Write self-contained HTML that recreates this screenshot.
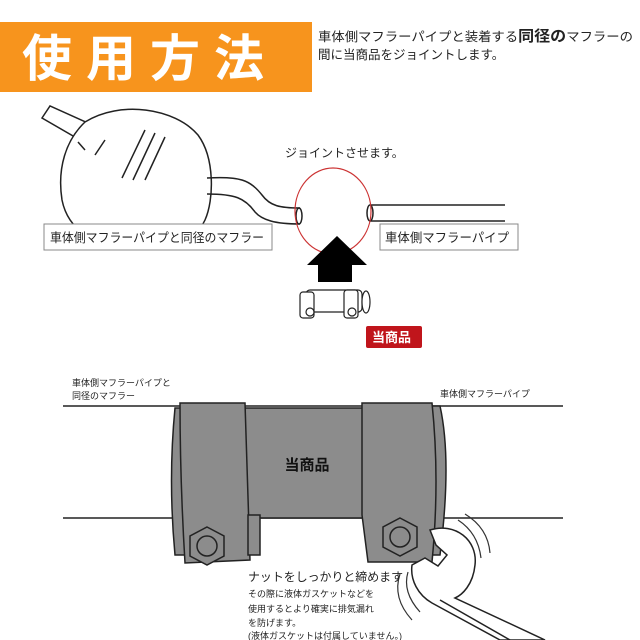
<!DOCTYPE html>
<html><head><meta charset="utf-8"><style>
body{margin:0;background:#fff;}
svg{display:block}
text{font-family:"Liberation Sans","Noto Sans CJK JP",sans-serif;}
</style></head><body>
<svg width="640" height="640" viewBox="0 0 640 640" xmlns="http://www.w3.org/2000/svg">
<rect x="0" y="22" width="312" height="70" fill="#f7941d"/>
<text x="22" y="76" font-size="50" font-weight="bold" fill="#fff" letter-spacing="14">使用方法</text>
<text x="318" y="41" font-size="12.5" fill="#222" textLength="315" lengthAdjust="spacingAndGlyphs">車体側マフラーパイプと装着する<tspan font-weight="bold" font-size="15">同径の</tspan>マフラーの</text>
<text x="318" y="59" font-size="12.5" fill="#222">間に当商品をジョイントします。</text>

<!-- muffler -->
<g fill="none" stroke="#222" stroke-width="1.5">
<path d="M42,118 L50,106 L90,124 L80,140 Z" fill="#fff"/>
<path d="M85,122 C120,100 175,108 198,135 C215,158 214,200 205,220 C196,240 165,248 135,248 C95,248 68,230 62,200 C57,168 66,140 85,122 Z" fill="#fff"/>
<path d="M105,140 L95,155 M145,130 L122,178 M155,133 L133,180 M165,137 L145,180 M85,150 L78,142"/>
<path d="M207,178 C240,176 250,180 262,195 C270,206 280,208 300,208"/>
<path d="M207,194 C235,194 245,198 255,212 C262,220 275,224 300,224"/>
<ellipse cx="299" cy="216" rx="3" ry="8"/>
<ellipse cx="370" cy="213" rx="3" ry="8"/>
<path d="M370,205 L505,205 M370,221 L505,221"/>
</g>
<ellipse cx="333" cy="211" rx="38" ry="43" fill="none" stroke="#c33" stroke-width="1.2"/>
<text x="285" y="157" font-size="12" fill="#222">ジョイントさせます。</text>
<rect x="44" y="224" width="228" height="26" fill="#fff" stroke="#888"/>
<text x="50" y="242" font-size="12.5" fill="#222" textLength="214" lengthAdjust="spacingAndGlyphs">車体側マフラーパイプと同径のマフラー</text>
<rect x="380" y="224" width="138" height="26" fill="#fff" stroke="#888"/>
<text x="385" y="242" font-size="12.5" fill="#222" textLength="124" lengthAdjust="spacingAndGlyphs">車体側マフラーパイプ</text>
<polygon points="337,236 367,265 352,265 352,282 318,282 318,265 307,265" fill="#000"/>
<!-- small clamp -->
<g fill="#fff" stroke="#222" stroke-width="1.2">
<rect x="306" y="290" width="56" height="22" rx="4"/>
<rect x="300" y="292" width="14" height="26" rx="3"/>
<rect x="344" y="290" width="14" height="28" rx="3"/>
<ellipse cx="366" cy="302" rx="4" ry="11"/>
<circle cx="310" cy="312" r="4"/><circle cx="352" cy="312" r="4"/>
</g>
<rect x="366" y="326" width="56" height="22" rx="2" fill="#c0151b"/>
<text x="372" y="342" font-size="13" font-weight="bold" fill="#fff">当商品</text>

<!-- bottom -->
<text x="72" y="386" font-size="9" fill="#222">車体側マフラーパイプと</text>
<text x="72" y="399" font-size="9" fill="#222">同径のマフラー</text>
<text x="440" y="397" font-size="9" fill="#222">車体側マフラーパイプ</text>
<path d="M63,406 L563,406 M63,518 L563,518" stroke="#222" stroke-width="1.5"/>
<g stroke="#222" stroke-width="1.5" fill="#8c8c8c">
<rect x="242" y="408" width="130" height="110"/>
<path d="M175,408 Q168,480 175,555 L245,555 L245,408 Z"/>
<path d="M180,403 L245,403 L250,560 L185,563 Q180,480 180,403 Z"/>
<rect x="248" y="515" width="12" height="40"/>
<path d="M440,406 Q452,460 440,555 L430,555 L430,406 Z"/>
<path d="M362,403 L432,403 Q440,480 432,562 L368,562 L362,515 Z"/>
</g>
<text x="307" y="470" font-size="15" font-weight="bold" fill="#111" text-anchor="middle">当商品</text>
<g stroke="#222" stroke-width="1.5" fill="#8c8c8c">
<polygon points="207,527 224,536 224,556 207,565 190,556 190,536"/>
<circle cx="207" cy="546" r="10"/>
<polygon points="400,518 417,527 417,547 400,556 383,547 383,527"/>
<circle cx="400" cy="537" r="10"/>
</g>
<g fill="#fff" stroke="#222" stroke-width="1.5">
<path d="M430,530 C455,522 478,540 475,565 C473,585 462,595 455,598 L545,640 L500,640 L432,603 C418,595 410,580 412,565 L425,558 L438,566 L447,555 L436,545 Z"/>
<path d="M440,600 L510,640" fill="none"/>
</g>
<g fill="none" stroke="#333" stroke-width="1.2">
<path d="M458,520 Q478,533 481,558"/><path d="M465,514 Q488,528 490,553"/>
<path d="M408,572 Q402,592 420,612"/><path d="M400,574 Q392,598 412,620"/>
</g>
<text x="248" y="581" font-size="12" fill="#222" textLength="155" lengthAdjust="spacingAndGlyphs">ナットをしっかりと締めます</text>
<text x="248" y="597" font-size="9" fill="#222">その際に液体ガスケットなどを</text>
<text x="248" y="612" font-size="9" fill="#222">使用するとより確実に排気漏れ</text>
<text x="248" y="626" font-size="9" fill="#222">を防げます。</text>
<text x="248" y="639" font-size="9" fill="#222">(液体ガスケットは付属していません。)</text>
</svg>
</body></html>
